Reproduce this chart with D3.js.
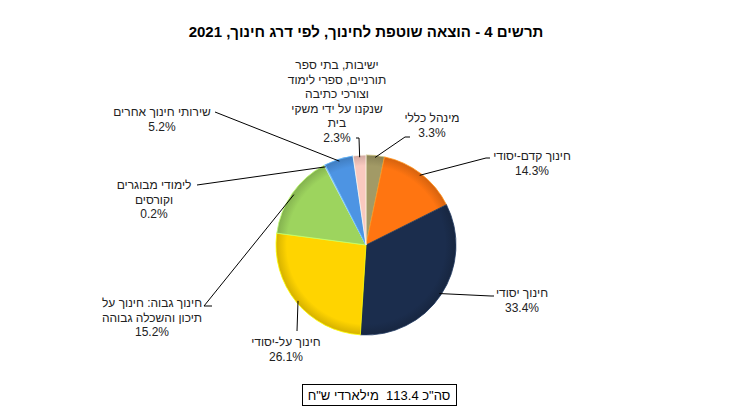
<!DOCTYPE html>
<html lang="he">
<head>
<meta charset="utf-8">
<script src="https://cdn.jsdelivr.net/npm/d3@7"></script>
<style>
  body { margin: 0; background: #fff; }
  svg { font-family: "Liberation Sans", Arial, sans-serif; }
</style>
</head>
<body>
<div id="chart"></div>
<script>
// data, clockwise from 12 o'clock
const categories = [
  "מינהל כללי",
  "חינוך קדם-יסודי",
  "חינוך יסודי",
  "חינוך על-יסודי",
  "חינוך גבוה: חינוך על תיכון והשכלה גבוהה",
  "לימודי מבוגרים וקורסים",
  "שירותי חינוך אחרים",
  "ישיבות, בתי ספר תורניים, ספרי לימוד וצורכי כתיבה שנקנו על ידי משקי בית",
];
const shares = [3.3, 14.3, 33.4, 26.1, 15.2, 0.2, 5.2, 2.3];
// wrapped label lines as in the original
const labelLines = [
  ["מינהל כללי"],
  ["חינוך קדם-יסודי"],
  ["חינוך יסודי"],
  ["חינוך על-יסודי"],
  ["חינוך גבוה: חינוך על", "תיכון והשכלה גבוהה"],
  ["לימודי מבוגרים", "וקורסים"],
  ["שירותי חינוך אחרים"],
  ["ישיבות, בתי ספר", "תורניים, ספרי לימוד", "וצורכי כתיבה", "שנקנו על ידי משקי", "בית"],
];
const title = "תרשים 4 - הוצאה שוטפת לחינוך, לפי דרג חינוך, 2021";
const totalText = "סה\"כ 113.4  מילארדי ש\"ח";

const colors = ["#a29a66", "#ff7511", "#1b2d4d", "#ffd400", "#9dd45e", "#8fb3d9", "#4d94e3", "#f9c9bf"];

// label layout: text centre x, first line y, and leader elbow/end
const labelLayout = [
  { x: 432, y: 118, end: [[405, 137], [410, 137]] },
  { x: 532, y: 156, end: [[486, 158], [490, 158]] },
  { x: 522, y: 293, end: [[491, 296], [494, 296]] },
  { x: 286, y: 342, end: [[297, 331]] },
  { x: 152, y: 303, end: [[204, 306], [212, 306]] },
  { x: 154, y: 185, end: [[197, 185]] },
  { x: 162, y: 112, end: [[215, 112]] },
  { x: 337, y: 65, end: [[359, 138], [356, 138]] },
];

const width = 746, height = 412;
const cx = 366, cy = 245, r = 90;
const lineH = 14.6;

const svg = d3.select("#chart").append("svg")
  .attr("width", width).attr("height", height);

// slight bevel: darker rim on every slice
const defs = svg.append("defs");
colors.forEach((c, i) => {
  const g = defs.append("radialGradient")
    .attr("id", "grad" + i)
    .attr("gradientUnits", "userSpaceOnUse")
    .attr("cx", 0).attr("cy", 0).attr("r", r);
  g.append("stop").attr("offset", "0%").attr("stop-color", c);
  g.append("stop").attr("offset", "88%").attr("stop-color", c);
  g.append("stop").attr("offset", "100%").attr("stop-color", d3.color(c).darker(0.5));
});

svg.append("text")
  .attr("x", 366).attr("y", 37)
  .attr("text-anchor", "middle")
  .attr("direction", "rtl")
  .style("font-size", "15px").style("font-weight", "bold")
  .text(title);

const data = categories.map((name, i) => ({ name, value: shares[i], i }));
const pie = d3.pie().value(d => d.value).sort(null);
const arcs = pie(data);
const arc = d3.arc().innerRadius(0).outerRadius(r);

const gPie = svg.append("g").attr("transform", `translate(${cx},${cy})`);
gPie.selectAll("path.slice")
  .data(arcs)
  .join("path")
  .attr("class", "slice")
  .attr("d", arc)
  .attr("fill", d => `url(#grad${d.data.i})`)
  .attr("stroke", d => d3.color(colors[d.data.i]).brighter(0.6))
  .attr("stroke-width", 0.8);

// leader lines
const lineGen = d3.line();
svg.append("g").selectAll("path")
  .data(arcs)
  .join("path")
  .attr("fill", "none")
  .attr("stroke", "#000")
  .attr("stroke-width", 1)
  .attr("d", d => {
    const a = (d.startAngle + d.endAngle) / 2;
    const p = [cx + (r - 2) * Math.sin(a), cy - (r - 2) * Math.cos(a)];
    return lineGen([p, ...labelLayout[d.data.i].end]);
  });

// labels
const gLab = svg.append("g")
  .style("font-size", "12px")
  .attr("text-anchor", "middle")
  .attr("fill", "#222");
arcs.forEach(d => {
  const L = labelLayout[d.data.i];
  const lines = labelLines[d.data.i].concat([d3.format(".1f")(d.data.value) + "%"]);
  const t = gLab.append("text").attr("x", L.x).attr("y", L.y + 4);
  lines.forEach((ln, k) => {
    t.append("tspan")
      .attr("x", L.x)
      .attr("dy", k === 0 ? 0 : lineH)
      .attr("direction", k === lines.length - 1 ? "ltr" : "rtl")
      .text(ln);
  });
});

// total box
svg.append("rect")
  .attr("x", 302.5).attr("y", 384.5).attr("width", 154).attr("height", 21)
  .attr("fill", "#fff").attr("stroke", "#000").attr("stroke-width", 1);
svg.append("text")
  .attr("x", 379).attr("y", 400)
  .attr("text-anchor", "middle")
  .attr("direction", "rtl")
  .style("font-size", "13px")
  .style("white-space", "pre")
  .attr("xml:space", "preserve")
  .text(totalText);
</script>
</body>
</html>
